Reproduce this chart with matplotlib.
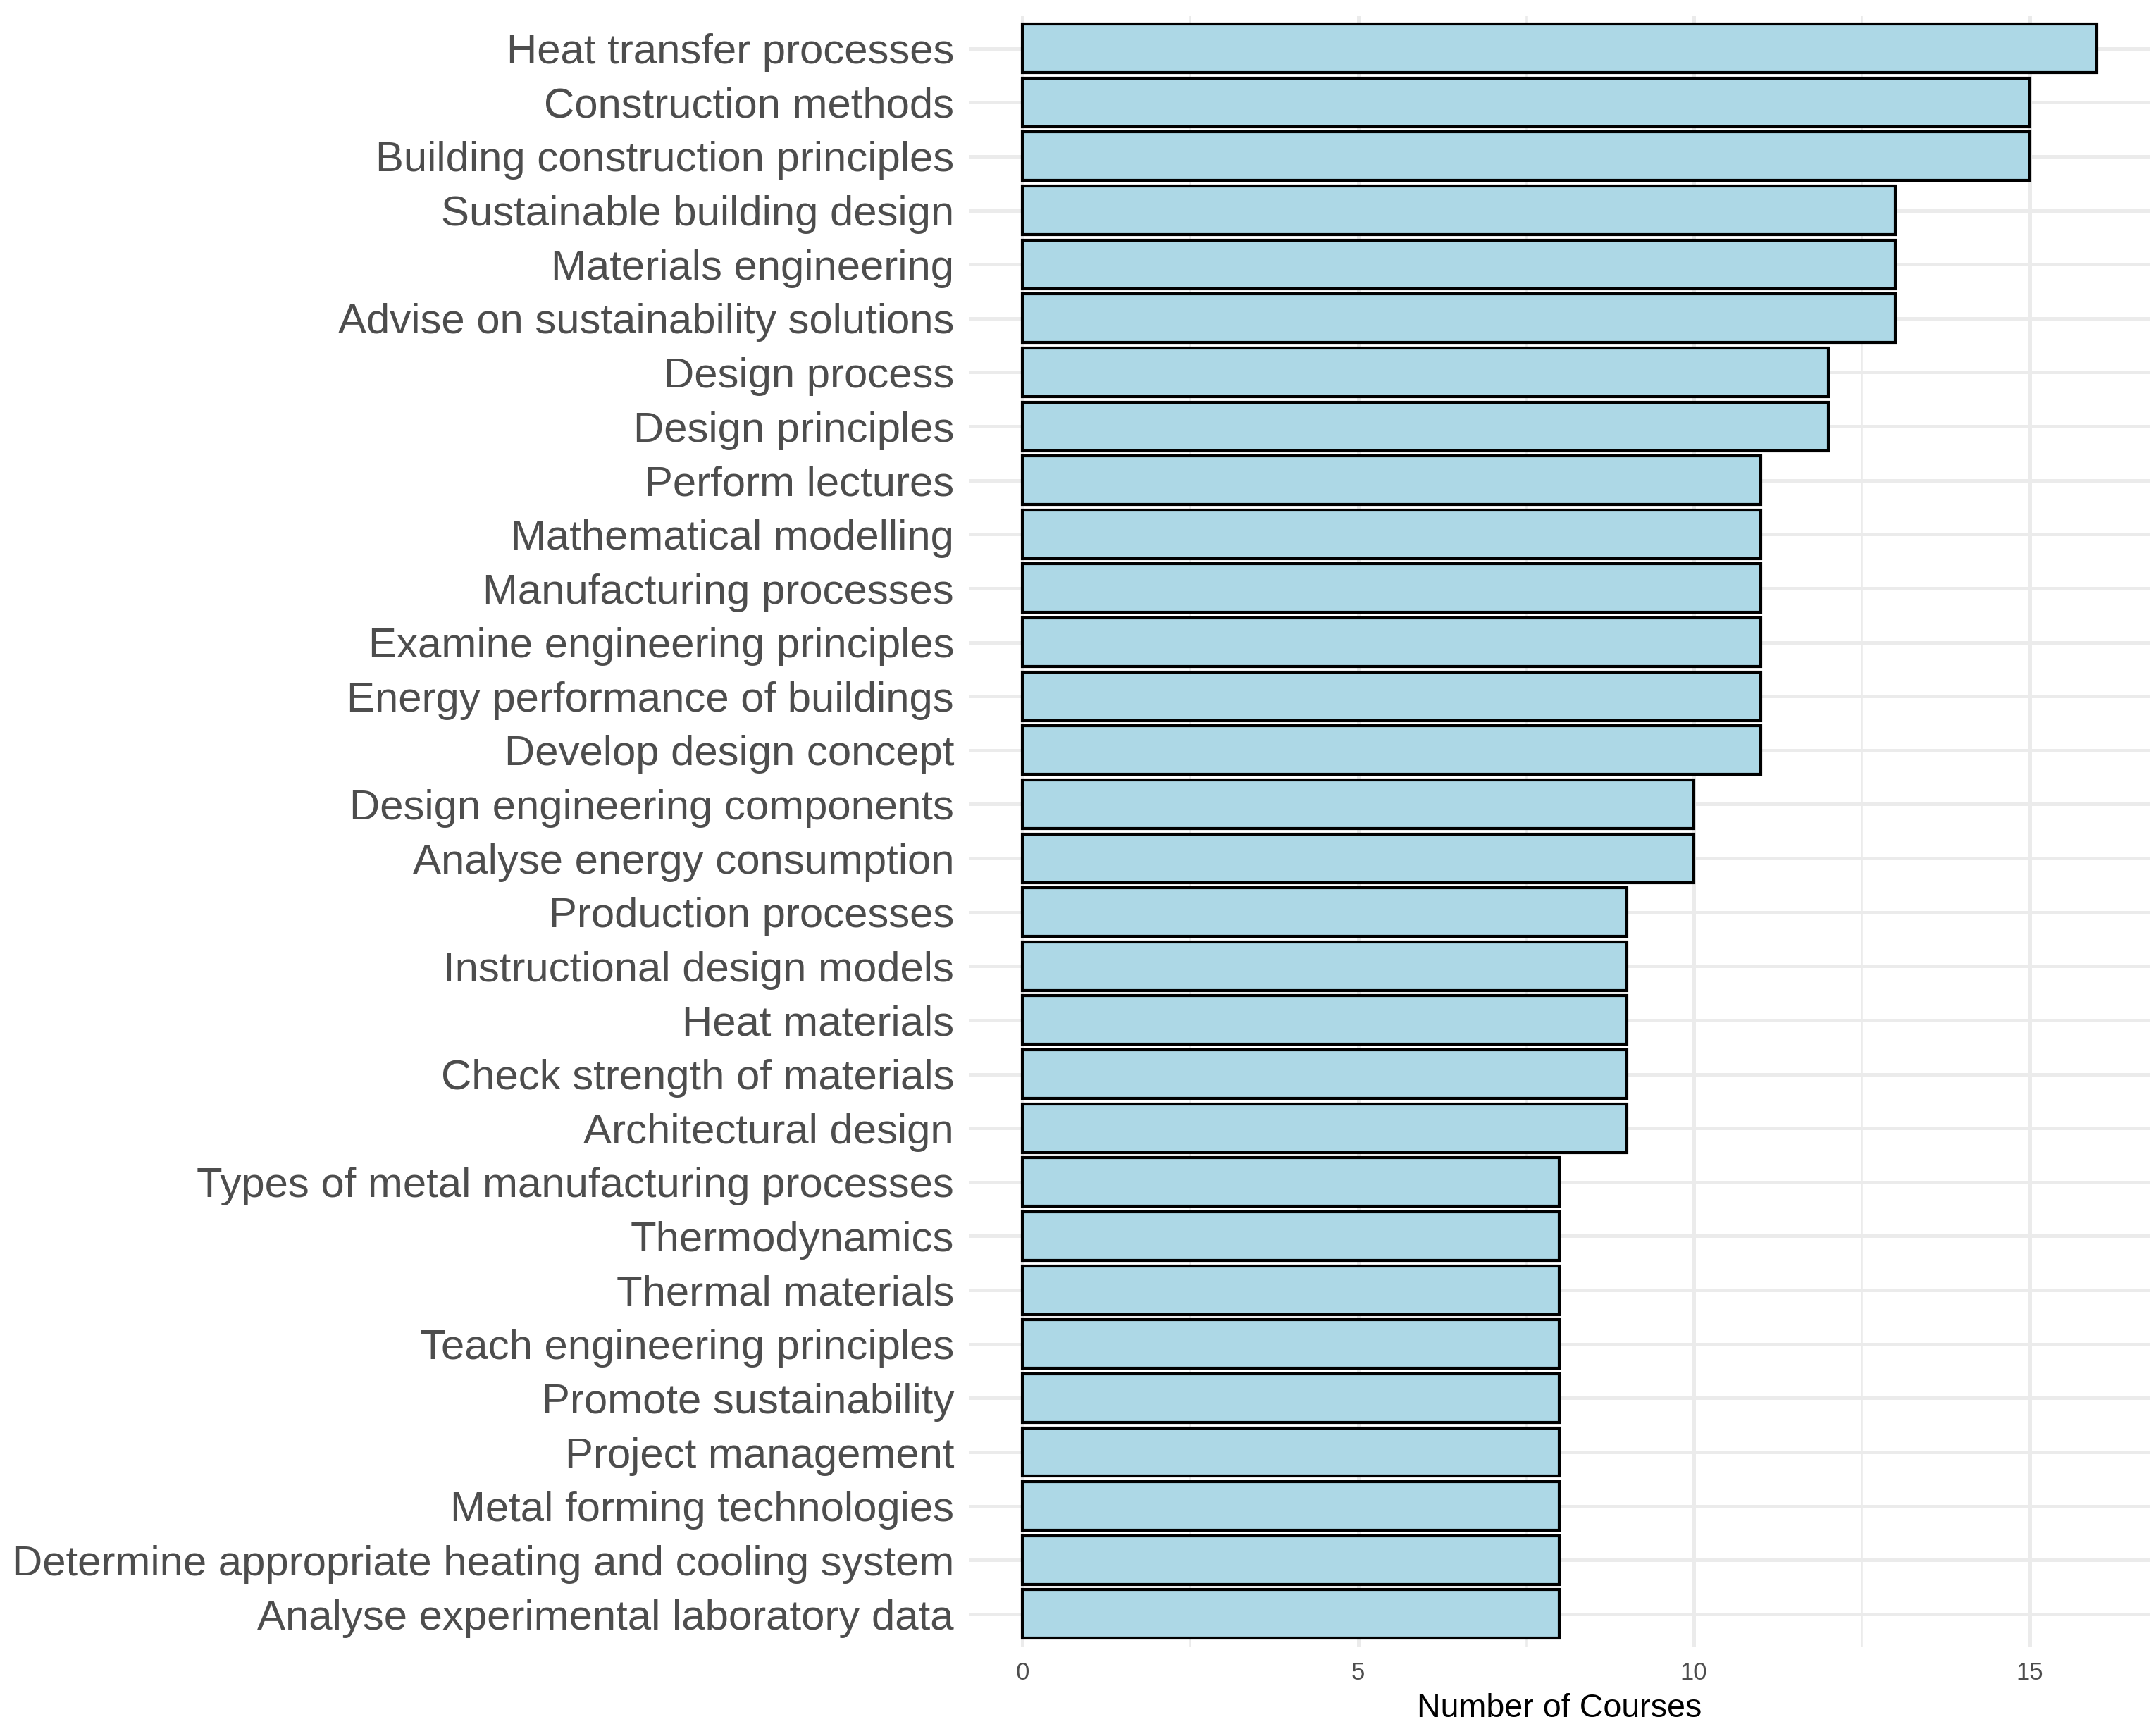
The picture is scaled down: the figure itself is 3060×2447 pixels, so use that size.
import matplotlib
matplotlib.use("Agg")
import matplotlib.pyplot as plt
from matplotlib.ticker import MultipleLocator

skills = [
    "Heat transfer processes",
    "Construction methods",
    "Building construction principles",
    "Sustainable building design",
    "Materials engineering",
    "Advise on sustainability solutions",
    "Design process",
    "Design principles",
    "Perform lectures",
    "Mathematical modelling",
    "Manufacturing processes",
    "Examine engineering principles",
    "Energy performance of buildings",
    "Develop design concept",
    "Design engineering components",
    "Analyse energy consumption",
    "Production processes",
    "Instructional design models",
    "Heat materials",
    "Check strength of materials",
    "Architectural design",
    "Types of metal manufacturing processes",
    "Thermodynamics",
    "Thermal materials",
    "Teach engineering principles",
    "Promote sustainability",
    "Project management",
    "Metal forming technologies",
    "Determine appropriate heating and cooling system",
    "Analyse experimental laboratory data",
]
counts = [16, 15, 15, 13, 13, 13, 12, 12, 11, 11, 11, 11, 11, 11, 10, 10,
          9, 9, 9, 9, 9, 8, 8, 8, 8, 8, 8, 8, 8, 8]
x_ticks = [0, 5, 10, 15]

plt.rcParams['font.family'] = ['Liberation Sans', 'DejaVu Sans']

fig = plt.figure(figsize=(10.2, 8.157), dpi=300)
ax = fig.add_axes([0.4493, 0.045, 0.9974 - 0.4493, 0.9907 - 0.045])

n = len(skills)
ypos = list(range(n, 0, -1))
ax.barh(ypos, counts, height=0.9, color="#ADD8E6", edgecolor="black",
        linewidth=1.0, zorder=3)

xmax = max(counts)
ax.set_xlim(-0.05 * xmax, xmax * 1.05)
ax.set_ylim(0.4, n + 0.6)

ax.set_yticks(ypos)
ax.set_yticklabels(skills, fontsize=14.4, color="#4D4D4D")
ax.set_xticks(x_ticks)
ax.set_xticklabels([str(t) for t in x_ticks], fontsize=8.3, color="#4D4D4D")
ax.xaxis.set_minor_locator(MultipleLocator(2.5))

ax.tick_params(axis='both', which='both', length=0)
ax.tick_params(axis='y', pad=5)
ax.tick_params(axis='x', pad=5)

ax.grid(True, which='major', axis='both', color="#EBEBEB", linewidth=1.2, zorder=0)
ax.grid(True, which='minor', axis='x', color="#EBEBEB", linewidth=0.6, zorder=0)
ax.set_axisbelow(True)
for s in ax.spines.values():
    s.set_visible(False)

ax.set_xlabel("Number of Courses", fontsize=11.2, color="black", labelpad=3)

fig.savefig("out.png", dpi=300, facecolor="white")
